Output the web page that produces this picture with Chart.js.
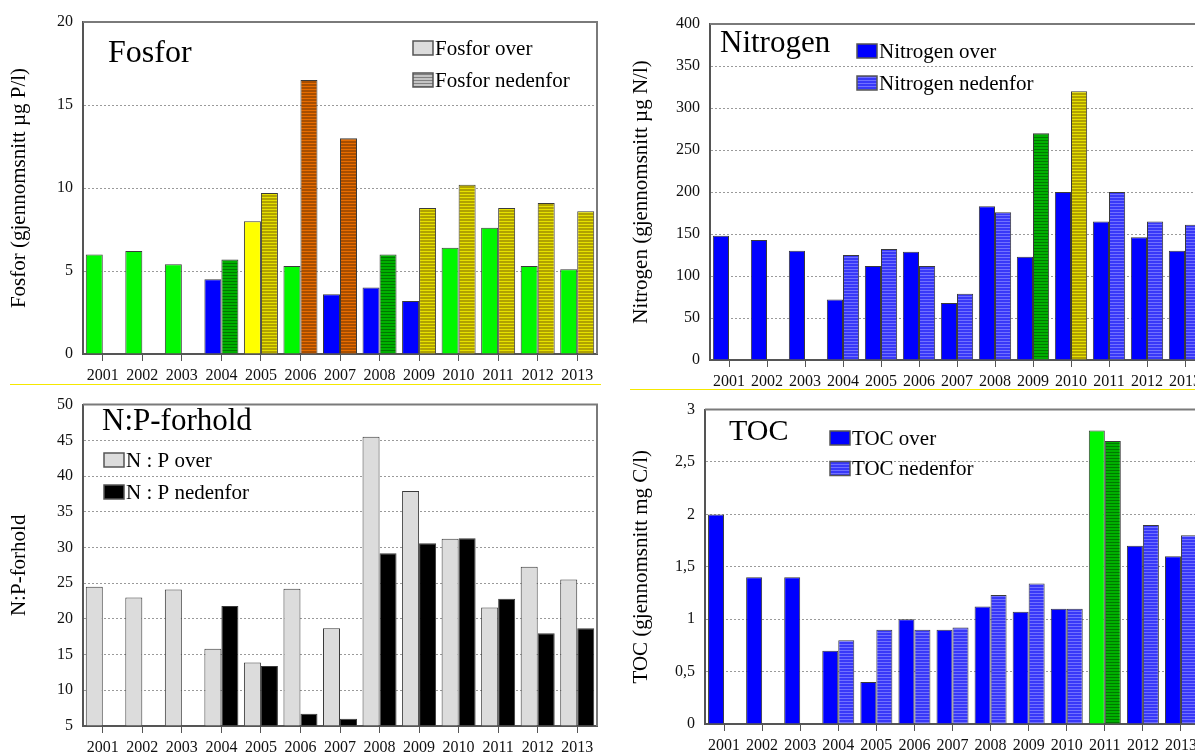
<!DOCTYPE html>
<html lang="no">
<head>
<meta charset="UTF-8">
<title>Fosfor, Nitrogen, N:P-forhold og TOC 2001-2013</title>
<script src="https://cdn.jsdelivr.net/npm/chart.js"></script>
<style>
  html, body { margin: 0; padding: 0; background: #fff; overflow: hidden; width: 1195px; height: 754px; }
  canvas { position: absolute; }
  .rule { position: absolute; height: 1px; background: #f5e800; z-index: 2; }
</style>
</head>
<body>
<canvas id="fosfor" width="600" height="384" style="left:0;top:0"></canvas>
<canvas id="nitrogen" width="620" height="388" style="left:600px;top:0"></canvas>
<canvas id="np" width="600" height="369" style="left:0;top:385px"></canvas>
<canvas id="toc" width="620" height="364" style="left:600px;top:390px"></canvas>
<div class="rule" style="left:10px;top:384px;width:591px"></div>
<div class="rule" style="left:630px;top:389px;width:565px"></div>

<script>
const years = ['2001', '2002', '2003', '2004', '2005', '2006', '2007', '2008', '2009', '2010', '2011', '2012', '2013'];

// Fosfor (gjennomsnitt µg P/l)
const fosforOver = [6.0, 6.2, 5.4, 4.5, 8.0, 5.3, 3.6, 4.0, 3.2, 6.4, 7.6, 5.3, 5.1];
const fosforNedenfor = [null, null, null, 5.7, 9.7, 16.5, 13.0, 6.0, 8.8, 10.2, 8.8, 9.1, 8.6];

// Nitrogen (gjennomsnitt µg N/l)
const nitrogenOver = [148, 143, 130, 72, 112, 129, 68, 183, 123, 200, 165, 146, 130];
const nitrogenNedenfor = [null, null, null, 125, 132, 112, 79, 176, 270, 320, 200, 165, 161];

// N:P-forhold
const npOver = [24.5, 23.0, 24.1, 15.8, 13.9, 24.2, 18.7, 45.5, 37.9, 31.2, 21.6, 27.3, 25.5];
const npNedenfor = [null, null, null, 21.8, 13.4, 6.7, 6.0, 29.2, 30.6, 31.3, 22.8, 18.0, 18.7];

// TOC (gjennomsnitt mg C/l)
const tocOver = [2.0, 1.4, 1.4, 0.7, 0.4, 1.0, 0.9, 1.12, 1.07, 1.1, 2.8, 1.7, 1.6];
const tocNedenfor = [null, null, null, 0.8, 0.9, 0.9, 0.92, 1.23, 1.34, 1.1, 2.7, 1.9, 1.8];

// fill class per bar (colour coding from the report)
const fosforOverFill = ['lime', 'lime', 'lime', 'blue', 'yellow', 'lime', 'blue', 'blue', 'blue', 'lime', 'lime', 'lime', 'lime'];
const fosforNedenforFill = [null, null, null, 'greenS', 'oliveS', 'orangeS', 'orangeS', 'greenS', 'oliveS', 'oliveS', 'oliveS', 'oliveS', 'oliveS'];
const nitrogenOverFill = years.map(() => 'blue');
const nitrogenNedenforFill = [null, null, null, 'blueS', 'blueS', 'blueS', 'blueS', 'blueS', 'greenS', 'oliveS', 'blueS', 'blueS', 'blueS'];
const npOverFill = years.map(() => 'grey');
const npNedenforFill = years.map(() => 'black');
const tocOverFill = ['blue', 'blue', 'blue', 'blue', 'blue', 'blue', 'blue', 'blue', 'blue', 'blue', 'lime', 'blue', 'blue'];
const tocNedenforFill = [null, null, null, 'blueS', 'blueS', 'blueS', 'blueS', 'blueS', 'blueS', 'blueS', 'greenS', 'blueS', 'blueS'];

const SERIF = "'Liberation Serif', 'Times New Roman', serif";
Chart.defaults.font.family = SERIF;

function stripes(base, line) {
    const c = document.createElement('canvas');
    c.width = 4; c.height = 3;
    const x = c.getContext('2d');
    x.fillStyle = base; x.fillRect(0, 0, 4, 3);
    x.fillStyle = line; x.fillRect(0, 2, 4, 1);
    return x.createPattern(c, 'repeat');
}

const FILL = {
    lime: '#00f800',
    blue: '#0000ff',
    yellow: '#ffff00',
    grey: '#dcdcdc',
    black: '#000000',
    greenS: stripes('#00b000', '#007800'),
    oliveS: stripes('#b0a200', '#e6e000'),
    orangeS: stripes('#a84e00', '#e86c00'),
    blueS: stripes('#3838f8', '#7070ff'),
    greyS: stripes('#c4c4c4', '#808080')
};

// title, legend and the top/right frame of each panel
const panelPlugin = {
    id: 'panel',
    afterDraw(chart, args, o) {
        const ctx = chart.ctx, a = chart.chartArea;
        ctx.save();
        ctx.strokeStyle = '#7a7a7a';
        ctx.lineWidth = 2;
        ctx.beginPath();
        ctx.moveTo(a.left, a.top);
        ctx.lineTo(a.right, a.top);
        ctx.lineTo(a.right, a.bottom);
        ctx.stroke();

        ctx.fillStyle = '#000';
        ctx.textBaseline = 'alphabetic';
        ctx.font = o.titleSize + 'px ' + SERIF;
        ctx.fillText(o.title, o.titleX, o.titleY);

        ctx.font = '21px ' + SERIF;
        ctx.textBaseline = 'middle';
        chart.data.datasets.forEach((ds, i) => {
            const y = o.legendY + i * o.legendGap;
            ctx.fillStyle = FILL[o.legendFill[i]];
            ctx.fillRect(o.legendX, y - 7, 20, 14);
            ctx.strokeStyle = '#555';
            ctx.lineWidth = 1.5;
            ctx.strokeRect(o.legendX, y - 7, 20, 14);
            ctx.fillStyle = '#000';
            ctx.fillText(ds.label, o.legendX + 22, y + 1);
        });
        ctx.restore();
    }
};

function panel(id, cfg) {
    const dataset = (label, data, fill) => ({
        label: label,
        data: data,
        backgroundColor: fill.map(f => f ? FILL[f] : 'rgba(0,0,0,0)'),
        borderColor: '#3a3a3a',
        borderWidth: 1,
        categoryPercentage: cfg.cat,
        barPercentage: 1,
        base: cfg.min
    });
    return new Chart(document.getElementById(id), {
        type: 'bar',
        data: {
            labels: years,
            datasets: [
                dataset(cfg.labels[0], cfg.over, cfg.overFill),
                dataset(cfg.labels[1], cfg.under, cfg.underFill)
            ]
        },
        options: {
            responsive: false,
            animation: false,
            layout: { padding: cfg.pad },
            plugins: {
                legend: { display: false },
                tooltip: { enabled: false },
                panel: cfg.panel
            },
            scales: {
                x: {
                    grid: { offset: false, drawOnChartArea: false, drawTicks: true, tickLength: 7, color: '#555', lineWidth: 1 },
                    border: { color: '#555', width: 2 },
                    ticks: { padding: 5, color: '#111', font: { size: 16 }, maxRotation: 0, autoSkip: false },
                    afterFit: s => { s.height = cfg.xh; }
                },
                y: {
                    min: cfg.min,
                    max: cfg.max,
                    ticks: {
                        stepSize: cfg.step,
                        padding: 10,
                        color: '#111',
                        font: { size: 16 },
                        callback: v => String(v).replace('.', ',')
                    },
                    grid: {
                        drawTicks: false,
                        lineWidth: 1,
                        color: c => (c.tick && (c.tick.value === cfg.min || c.tick.value === cfg.max)) ? 'rgba(0,0,0,0)' : '#9a9a9a'
                    },
                    border: { color: '#555', width: 2, dash: [2, 2] },
                    title: { display: true, text: cfg.yTitle, color: '#000', font: { size: 21 }, padding: { top: 2, bottom: 0 } },
                    afterFit: s => { s.width = cfg.yw; }
                }
            }
        },
        plugins: [panelPlugin]
    });
}

panel('fosfor', {
    labels: ['Fosfor over', 'Fosfor nedenfor'],
    over: fosforOver, under: fosforNedenfor,
    overFill: fosforOverFill, underFill: fosforNedenforFill,
    min: 0, max: 20, step: 5,
    yTitle: 'Fosfor (gjennomsnitt µg P/l)',
    pad: { left: 5, top: 22, right: 3, bottom: 0 }, yw: 78, xh: 30, cat: 0.86,
    panel: { title: 'Fosfor', titleSize: 32, titleX: 108, titleY: 62, legendX: 413, legendY: 48, legendGap: 32, legendFill: ['grey', 'greyS'] }
});

panel('nitrogen', {
    labels: ['Nitrogen over', 'Nitrogen nedenfor'],
    over: nitrogenOver, under: nitrogenNedenfor,
    overFill: nitrogenOverFill, underFill: nitrogenNedenforFill,
    min: 0, max: 400, step: 50,
    yTitle: 'Nitrogen (gjennomsnitt µg N/l)',
    pad: { left: 27, top: 24, right: 16, bottom: 0 }, yw: 83, xh: 28, cat: 0.85,
    panel: { title: 'Nitrogen', titleSize: 31, titleX: 120, titleY: 52, legendX: 257, legendY: 51, legendGap: 32, legendFill: ['blue', 'blueS'] }
});

panel('np', {
    labels: ['N : P over', 'N : P nedenfor'],
    over: npOver, under: npNedenfor,
    overFill: npOverFill, underFill: npNedenforFill,
    min: 5, max: 50, step: 5,
    yTitle: 'N:P-forhold',
    pad: { left: 5, top: 15, right: 3, bottom: 0 }, yw: 78, xh: 28, cat: 0.86,
    panel: { title: 'N:P-forhold', titleSize: 31, titleX: 102, titleY: 45, legendX: 104, legendY: 75, legendGap: 32, legendFill: ['grey', 'black'] }
});

panel('toc', {
    labels: ['TOC over', 'TOC nedenfor'],
    over: tocOver, under: tocNedenfor,
    overFill: tocOverFill, underFill: tocNedenforFill,
    min: 0, max: 3, step: 0.5,
    yTitle: 'TOC (gjennomsnitt mg C/l)',
    pad: { left: 27, top: 13, right: 20, bottom: 0 }, yw: 78, xh: 30, cat: 0.84,
    panel: { title: 'TOC', titleSize: 30, titleX: 129, titleY: 50, legendX: 230, legendY: 48, legendGap: 30.5, legendFill: ['blue', 'blueS'] }
});
</script>
</body>
</html>
